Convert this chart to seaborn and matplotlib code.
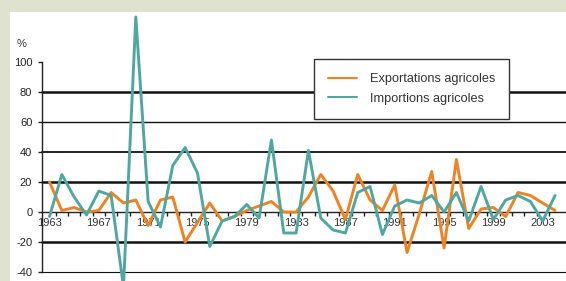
import seaborn as sns
import pandas as pd
import matplotlib.pyplot as plt

# données (variation annuelle en %)
annees = list(range(1963, 2005))
exportations = [20, 1, 3, 0, 1, 13, 6, 8, -9, 8,
                10, -20, -7, 6, -6, -3, 1, 4, 7, 0,
                0, 10, 25, 14, -5, 25, 8, 1, 18, -27,
                -1, 27, -24, 35, -11, 2, 3, -3, 13, 11,
                6, 1]
importations = [-3, 25, 10, -2, 14, 11, -50, 130, 7, -10,
                31, 43, 26, -23, -6, -3, 5, -4, 48, -14,
                -14, 41, -4, -12, -14, 13, 17, -15, 4, 8,
                6, 11, 0, 13, -6, 17, -5, 8, 11, 7,
                -6, 11]
series = ["Exportations agricoles", "Importions agricoles"]
annees_ticks = list(range(1963, 2004, 4))
y_ticks = [-40, -20, 0, 20, 40, 60, 80, 100]
grilles = [80, 60, 40, 20, -20, -40]

sns.set_style("white")
plt.rcParams['font.family'] = ['Liberation Sans', 'DejaVu Sans']
plt.rcParams['axes.unicode_minus'] = False

df = pd.DataFrame({
    'annee': annees * 2,
    'valeur': exportations + importations,
    'serie': [series[0]] * len(annees) + [series[1]] * len(annees),
})

fig = plt.figure(figsize=(5.66, 2.81), dpi=100, facecolor='#e0e2d0')
ax = fig.add_axes([10 / 566, 0, 556 / 566, 269 / 281])
ax.set_facecolor('white')

# grilles noires
epaisseurs = {80: 1.8, 60: 1.0, 40: 1.3, 20: 1.8, -20: 1.8, -40: 0.8}
for g in grilles:
    ax.axhline(g, xmin=32 / 556, xmax=1, color='#111111', lw=epaisseurs[g], zorder=1)

sns.lineplot(data=df, x='annee', y='valeur', hue='serie',
             palette=['#f08222', '#4fa8a0'], linewidth=2.1, ax=ax, zorder=3)

x0 = 1963 - 7.5 / 12.33
ax.set_xlim(1963 - 39.5 / 12.33, 1963 + 516.5 / 12.33)
ax.set_ylim(-46, 200 / 1.5)

sns.despine(ax=ax)
ax.spines['left'].set_position(('data', x0))
ax.spines['left'].set_bounds(-40, 100)
ax.spines['bottom'].set_position(('data', 0))
ax.spines['bottom'].set_bounds(x0, 1963 + 516.5 / 12.33)
for s in ['left', 'bottom']:
    ax.spines[s].set_color('#222222')
    ax.spines[s].set_linewidth(1.0)
    ax.spines[s].set_zorder(2)

ax.set_yticks(y_ticks)
ax.set_yticklabels([str(v) for v in y_ticks])
ax.tick_params(axis='y', direction='out', length=3, width=1, pad=4,
               labelsize=8, colors='#222222', left=True)
ax.set_xticks(annees_ticks)
ax.set_xticklabels([str(a) for a in annees_ticks])
ax.set_xticks([a + 0.5 for a in annees[:-1]], minor=True)
ax.tick_params(axis='x', which='major', length=0, pad=4, labelsize=8, colors='#333333')
ax.tick_params(axis='x', which='minor', direction='out', length=3, width=1,
               color='#222222', bottom=True)
ax.set_xlabel('')
ax.set_ylabel('')

fig.text(22 / 566, 1 - 44 / 281, '%', fontsize=8, color='#333333',
         ha='center', va='center')

handles, labels = ax.get_legend_handles_labels()
leg = ax.legend(handles, labels, loc='upper left',
                bbox_to_anchor=(304 / 556, 1 - 47 / 269), borderaxespad=0,
                frameon=True, fancybox=False, framealpha=1, edgecolor='#333333',
                fontsize=9.2, borderpad=1.1, labelspacing=0.6,
                handlelength=2.3, handletextpad=0.95)
leg.get_frame().set_linewidth(1.0)
for t in leg.get_texts():
    t.set_color('#333333')
for l in leg.get_lines():
    l.set_linewidth(1.5)

fig.savefig('out.png', dpi=100, facecolor=fig.get_facecolor())
